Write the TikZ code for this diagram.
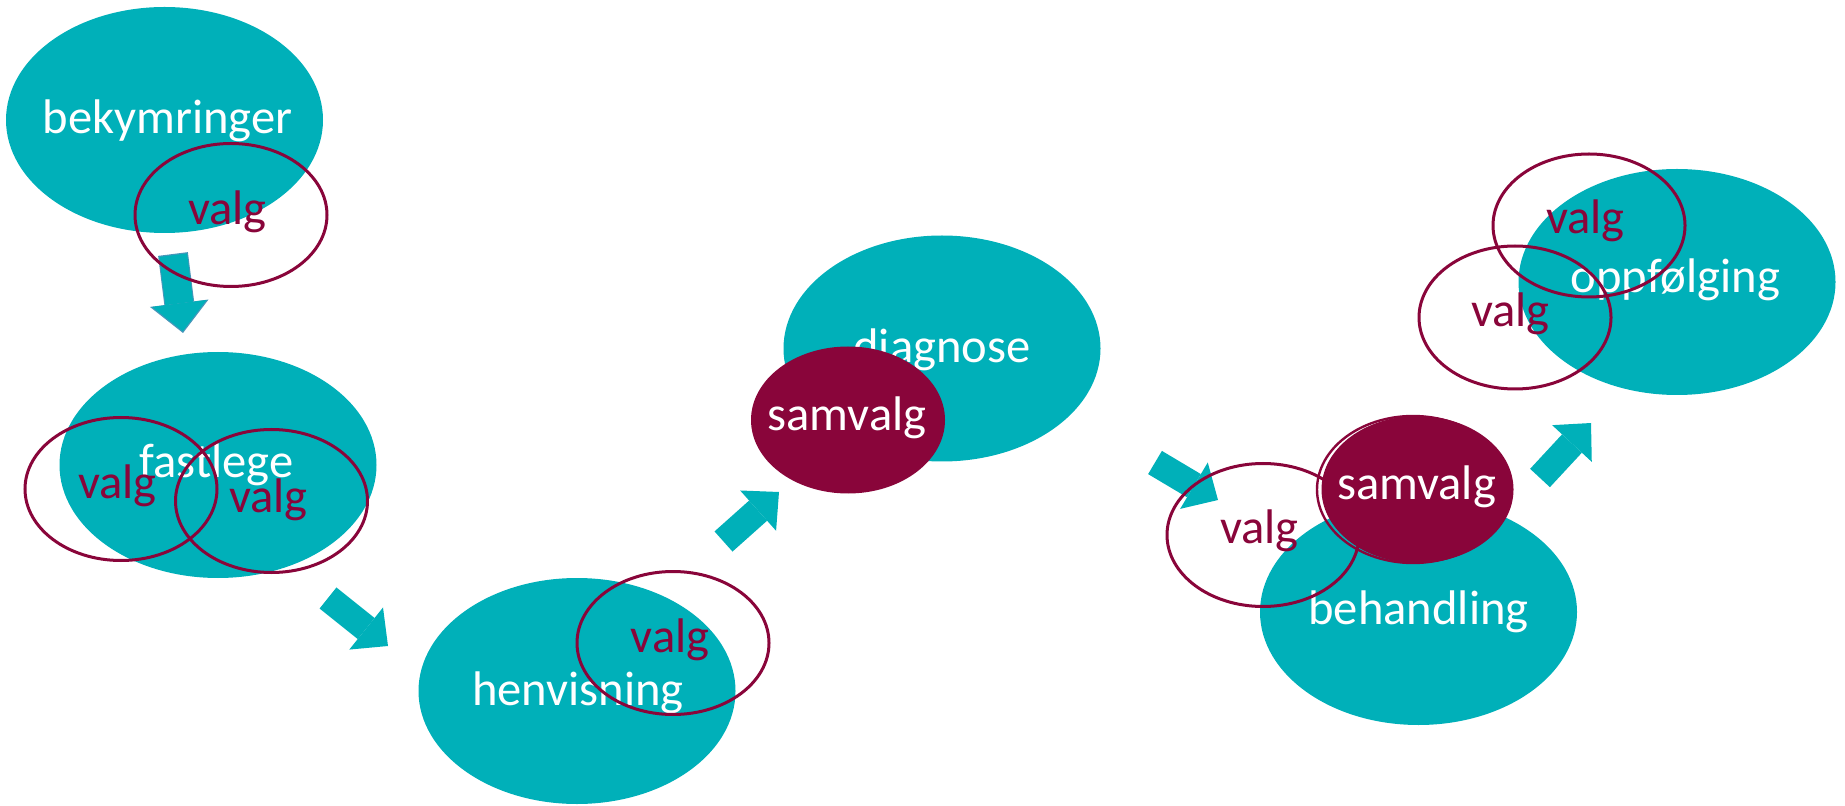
\documentclass[tikz,border=0pt]{standalone}
\usepackage{fontspec}
\setmainfont{Carlito}
\usetikzlibrary{shapes.geometric,arrows.meta}
\definecolor{kteal}{RGB}{0,176,185}
\definecolor{kmaroon}{RGB}{137,5,58}
\definecolor{krim}{RGB}{72,150,186}
\begin{document}
\begin{tikzpicture}[x=0.5pt,y=-0.5pt,
  blob/.style={ellipse,fill=kteal,inner sep=0pt,minimum width=158.5pt,minimum height=113pt},
  ring/.style={ellipse,draw=kmaroon,line width=1.5pt,inner sep=0pt,minimum width=96pt,minimum height=71.5pt},
  joint/.style={ellipse,fill=kmaroon,inner sep=0pt,minimum width=97pt,minimum height=73.5pt},
  word/.style={inner sep=0pt,anchor=base,font=\fontsize{24.3}{29}\selectfont},
  lightword/.style={word,text=white},
  darkword/.style={word,text=kmaroon},
  fat/.style={draw=kteal,line width=13.5pt,-{Triangle[width=27pt,length=14pt,line width=0pt]}}]
\useasboundingbox (0,0) rectangle (1845,806);
\coordinate (a1s) at (173,254); \coordinate (a1e) at (183,333);
\coordinate (a2s) at (328,598); \coordinate (a2e) at (388,646);
\coordinate (a3s) at (723.5,541.5); \coordinate (a3e) at (779,492);
\coordinate (a4s) at (1155,462.5); \coordinate (a4e) at (1218,500);
\coordinate (a5s) at (1540,478); \coordinate (a5e) at (1591,423);
\draw[draw=krim,line width=15pt,-{Triangle[width=29.5pt,length=15pt,line width=0pt]}] (a1s) -- (a1e);
\draw[fat,line width=14pt,-{Triangle[width=27.5pt,length=14pt,line width=0pt]},shorten <=0.6pt,shorten >=0.9pt] (a1s) -- (a1e);
\draw[fat] (a2s) -- (a2e);
\draw[fat] (a3s) -- (a3e);
\draw[fat] (a4s) -- (a4e);
\draw[fat] (a5s) -- (a5e);
\node[blob] (bekym) at (164.5,120) {};
\node[lightword] (bekym-t) at (167.5,134) {bekymringer};
\node[blob] (fastl) at (218,465) {};
\node[lightword] (fastl-t) at (216.5,478) {fastlege};
\node[blob] (henv) at (577,691) {};
\node[lightword] (henv-t) at (578,705) {henvisning};
\node[blob] (diagn) at (942,348.5) {};
\node[lightword] (diagn-t) at (942,363) {diagnose};
\node[blob] (behand) at (1418.5,612) {};
\node[lightword] (behand-t) at (1418.5,624) {behandling};
\node[blob] (oppf) at (1677,282) {};
\node[lightword] (oppf-t) at (1675.5,293) {oppfølging};
\node[ring] (valg-a) at (231,215) {};
\node[ring] (valg-b) at (121,489) {};
\node[ring] (valg-c) at (271.5,501) {};
\node[ring] (valg-d) at (673,643) {};
\node[ring] (valg-e) at (1263,535) {};
\node[ring] (valg-f) at (1589,225.5) {};
\node[ring] (valg-g) at (1515,317.5) {};
\node[darkword] (valg-a-t) at (227.5,225) {valg};
\node[darkword] (valg-b-t) at (117.5,498) {valg};
\node[darkword] (valg-c-t) at (268.5,512) {valg};
\node[darkword] (valg-d-t) at (670,652) {valg};
\node[darkword] (valg-e-t) at (1259.5,543) {valg};
\node[darkword] (valg-f-t) at (1585.5,234) {valg};
\node[darkword] (valg-g-t) at (1510.5,327) {valg};
\node[ring,line width=1.2pt,minimum width=96pt,minimum height=73.5pt] (samv-rim) at (1413,489.5) {};
\node[joint] (samv-a) at (848,420) {};
\node[lightword] (samv-a-t) at (847,431) {samvalg};
\node[joint,minimum width=96pt] (samv-b) at (1417.5,489.5) {};
\node[lightword] (samv-b-t) at (1416.5,500) {samvalg};
\end{tikzpicture}
\end{document}
